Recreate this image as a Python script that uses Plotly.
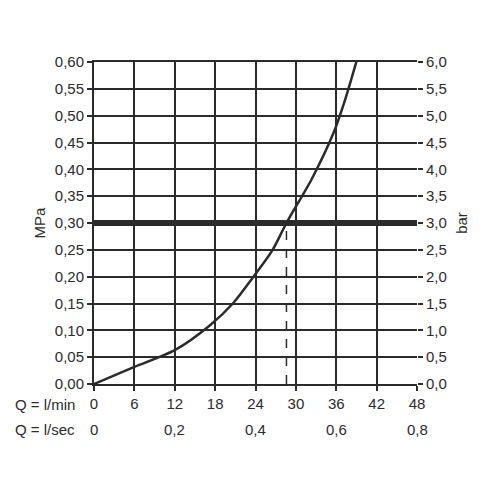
import plotly.graph_objects as go

flow_lmin = [0, 6, 12, 17.2, 20.7, 23.7, 26.5, 28.6, 32.4, 35.6, 37.3, 39.0]
pressure_mpa = [0, 0.032, 0.063, 0.109, 0.151, 0.200, 0.249, 0.300, 0.383, 0.468, 0.529, 0.601]
x_ticks = [0, 6, 12, 18, 24, 30, 36, 42, 48]
lsec_vals = [0, 12, 24, 36, 48]
lsec_labels = ["0", "0,2", "0,4", "0,6", "0,8"]
y_ticks = [i * 0.05 for i in range(13)]
bar_labels = [f"{i*0.5:.1f}".replace(".", ",") for i in range(13)]
ref_pressure = 0.30
op_flow = 28.6

C = "#2b2b2b"
fig = go.Figure()
fig.add_trace(go.Scatter(x=flow_lmin, y=pressure_mpa, mode="lines", line=dict(color=C, width=2.5, shape="spline", smoothing=0.8), showlegend=False))
fig.add_trace(go.Scatter(x=[0, 48], y=[ref_pressure, ref_pressure], mode="lines", line=dict(color=C, width=6), showlegend=False))
fig.add_trace(go.Scatter(x=[op_flow, op_flow], y=[0, ref_pressure], mode="lines", line=dict(color=C, width=1.5, dash="dash"), showlegend=False))
fig.add_trace(go.Scatter(x=[0], y=[0], yaxis="y2", mode="markers", marker=dict(opacity=0), showlegend=False, hoverinfo="skip"))

font = dict(family="Liberation Sans, Arial", size=15, color=C)
fig.update_layout(
    width=500, height=500, margin=dict(l=86, r=91, t=54, b=124),
    plot_bgcolor="white", paper_bgcolor="white", font=font, separators=",.",
    xaxis=dict(range=[0, 48], tickvals=x_ticks, ticktext=[str(v) for v in x_ticks],
               showgrid=True, gridcolor=C, gridwidth=2, zeroline=False,
               ticks="outside", ticklen=5, tickwidth=2, tickcolor=C,
               showline=True, linecolor=C, linewidth=2, mirror=True, tickfont=font),
    yaxis=dict(range=[0, 0.6], tickvals=y_ticks, ticktext=[f"{v:.2f}".replace(".", ",") for v in y_ticks],
               showgrid=True, gridcolor=C, gridwidth=2, zeroline=False,
               ticks="outside", ticklen=5, tickwidth=2, tickcolor=C,
               showline=True, linecolor=C, linewidth=2,
               title=dict(text="MPa", font=font, standoff=6), tickfont=font),
    yaxis2=dict(overlaying="y", side="right", range=[0, 6], tickvals=[i * 0.5 for i in range(13)],
                ticktext=bar_labels, showgrid=False, zeroline=False,
                ticks="outside", ticklen=5, tickwidth=2, tickcolor=C,
                title=dict(text="bar", font=font, standoff=10), tickfont=font),
)
fig.add_annotation(text="Q = l/min", x=-0.25, y=-0.03, xref="paper", yref="paper", xanchor="left", yanchor="top", showarrow=False, font=font)
fig.add_annotation(text="Q = l/sec", x=-0.25, y=-0.11, xref="paper", yref="paper", xanchor="left", yanchor="top", showarrow=False, font=font)
for v, t in zip(lsec_vals, lsec_labels):
    fig.add_annotation(text=t, x=v, y=-0.11, xref="x", yref="paper", xanchor="center", yanchor="top", showarrow=False, font=font)
fig.write_html("out.html")
